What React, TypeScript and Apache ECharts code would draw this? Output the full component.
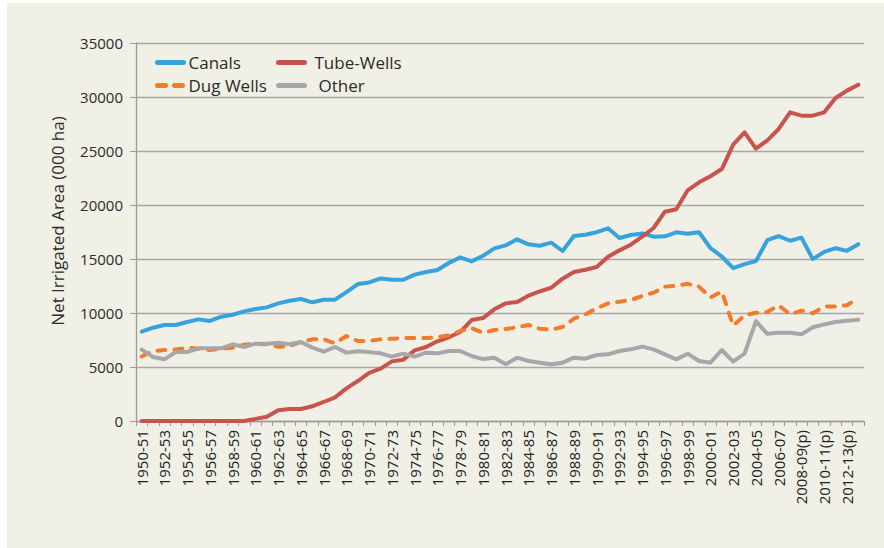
import React, { useEffect, useRef } from "react";
import * as echarts from "echarts";

const years = [
  "1950-51", "1951-52", "1952-53", "1953-54", "1954-55", "1955-56", "1956-57", "1957-58",
  "1958-59", "1959-60", "1960-61", "1961-62", "1962-63", "1963-64", "1964-65", "1965-66",
  "1966-67", "1967-68", "1968-69", "1969-70", "1970-71", "1971-72", "1972-73", "1973-74",
  "1974-75", "1975-76", "1976-77", "1977-78", "1978-79", "1979-80", "1980-81", "1981-82",
  "1982-83", "1983-84", "1984-85", "1985-86", "1986-87", "1987-88", "1988-89", "1989-90",
  "1990-91", "1991-92", "1992-93", "1993-94", "1994-95", "1995-96", "1996-97", "1997-98",
  "1998-99", "1999-00", "2000-01", "2001-02", "2002-03", "2003-04", "2004-05", "2005-06",
  "2006-07", "2007-08", "2008-09(p)", "2009-10(p)", "2010-11(p)", "2011-12(p)", "2012-13(p)", "2013-14(p)",
];

const canals = [
  8270, 8640, 8890, 8890, 9165, 9410, 9260, 9660, 9840, 10150,
  10370, 10520, 10890, 11140, 11295, 10990, 11230, 11230, 11940, 12680,
  12830, 13200, 13080, 13080, 13550, 13800, 13980, 14630, 15150, 14780,
  15290, 15985, 16260, 16820, 16360, 16230, 16510, 15740, 17130, 17250,
  17480, 17840, 16940, 17220, 17370, 17070, 17100, 17470, 17330, 17480,
  16000, 15230, 14150, 14520, 14800, 16740, 17110, 16690, 16975, 14990,
  15660, 16000, 15755, 16370,
];

const tubeWells = [
  0, 0, 0, 0, 0, 0, 0, 0, 0, 0,
  200, 400, 990, 1110, 1110, 1360, 1760, 2190, 3020, 3700,
  4460, 4845, 5520, 5680, 6540, 6850, 7380, 7750, 8240, 9350,
  9530, 10340, 10890, 11020, 11600, 12000, 12340, 13180, 13790, 14010,
  14260, 15210, 15800, 16320, 17070, 17870, 19380, 19600, 21360, 22100,
  22660, 23330, 25590, 26730, 25220, 25990, 27040, 28580, 28270, 28270,
  28580, 29910, 30590, 31140,
];

const dugWells = [
  5978, 6480, 6570, 6630, 6790, 6700, 6570, 6700, 6790, 7070,
  7155, 7100, 6880, 6940, 7310, 7560, 7560, 7190, 7870, 7410,
  7426, 7560, 7620, 7680, 7680, 7680, 7750, 7930, 8330, 8610,
  8164, 8425, 8520, 8670, 8890, 8550, 8460, 8700, 9470, 9875,
  10437, 10890, 11050, 11200, 11570, 11880, 12440, 12520, 12700, 12440,
  11440, 11980, 8830, 9790, 10020, 10090, 10700, 9890, 10220, 9980,
  10590, 10600, 10720, 11390,
];

const other = [
  6614, 5925, 5710, 6390, 6390, 6730, 6730, 6730, 7100, 6850,
  7160, 7160, 7250, 7100, 7310, 6790, 6420, 6850, 6330, 6450,
  6378, 6265, 5956, 6234, 5956, 6326, 6265, 6480, 6480, 6018,
  5733, 5863, 5246, 5863, 5555, 5401, 5246, 5401, 5863, 5771,
  6111, 6172, 6480, 6635, 6882, 6635, 6172, 5709, 6234, 5555,
  5401, 6573, 5493, 6250, 9245, 8070, 8165, 8165, 8025, 8675,
  8950, 9170, 9290, 9370,
];

const yTicks = { min: 0, max: 35000, interval: 5000 };

const FONT = "'Open Sans', 'Liberation Sans', sans-serif";

export default function App() {
  const ref = useRef<HTMLDivElement>(null);

  useEffect(() => {
    if (!ref.current) return;
    const chart = echarts.init(ref.current, undefined, { renderer: "svg" });

    const mk = (name: string, data: number[], color: string, dashed = false) => ({
      name,
      type: "line",
      data,
      symbol: "none",
      showSymbol: false,
      lineStyle: {
        color,
        width: 4,
        cap: "round",
        join: "round",
        type: dashed ? [8, 9] : "solid",
      },
      itemStyle: { color },
      z: 3,
    });

    const legendText = { fontFamily: FONT, fontSize: 17, color: "#2b2b2b" };
    const legendBase = {
      orient: "vertical",
      padding: 0,
      itemWidth: 26,
      itemHeight: 14,
      itemGap: 6,
      itemStyle: { opacity: 0 },
      lineStyle: { width: 5, cap: "round" },
    };

    chart.setOption({
      animation: false,
      textStyle: { fontFamily: FONT },
      graphic: [
        {
          type: "rect",
          left: 7,
          top: 3,
          shape: { width: 877, height: 545 },
          style: { fill: "#f1f0e6" },
          z: -100,
          silent: true,
        },
        {
          type: "text",
          x: 57,
          y: 221,
          rotation: Math.PI / 2,
          style: {
            text: "Net Irrigated Area (000 ha)",
            fontFamily: FONT,
            fontSize: 17,
            fill: "#2b2b2b",
            align: "center",
            verticalAlign: "middle",
          },
        },
      ],
      legend: [
        {
          ...legendBase,
          data: ["Canals", "Dug Wells"],
          left: 155,
          top: 54,
          textStyle: legendText,
        },
        {
          ...legendBase,
          data: ["Tube-Wells"],
          left: 276,
          top: 54,
          textStyle: { ...legendText, padding: [0, 0, 0, 5] },
        },
        {
          ...legendBase,
          data: ["Other"],
          left: 276,
          top: 77,
          textStyle: { ...legendText, padding: [0, 0, 0, 9] },
        },
      ],
      grid: { left: 136, right: 20, top: 43, bottom: 127, containLabel: false },
      xAxis: {
        type: "category",
        data: years,
        boundaryGap: true,
        axisLine: { show: true, lineStyle: { color: "#9c9c9c", width: 1.3 } },
        axisTick: {
          show: true,
          interval: 0,
          length: 5,
          lineStyle: { color: "#9c9c9c", width: 1 },
        },
        axisLabel: {
          interval: 1,
          rotate: 90,
          margin: 9,
          fontFamily: FONT,
          fontSize: 15,
          color: "#222",
        },
        splitLine: { show: false },
      },
      yAxis: {
        type: "value",
        min: yTicks.min,
        max: yTicks.max,
        interval: yTicks.interval,
        axisLine: { show: true, lineStyle: { color: "#9c9c9c", width: 1.3 } },
        axisTick: { show: true, length: 6, lineStyle: { color: "#9c9c9c" } },
        axisLabel: {
          margin: 13,
          fontFamily: FONT,
          fontSize: 15,
          color: "#2b2b2b",
          formatter: (v: number) => String(v),
        },
        splitLine: { show: true, lineStyle: { color: "#a8a8a8", width: 1.3 } },
      },
      series: [
        mk("Canals", canals, "#37a3dc"),
        mk("Tube-Wells", tubeWells, "#c9534d"),
        mk("Dug Wells", dugWells, "#f47b2b", true),
        mk("Other", other, "#a7a7ab"),
      ],
    });

    return () => chart.dispose();
  }, []);

  return (
    <div
      style={{
        position: "fixed",
        left: 0,
        top: 0,
        width: 884,
        height: 548,
        background: "#ffffff",
      }}
    >
      <div ref={ref} style={{ width: 884, height: 548 }} />
    </div>
  );
}
